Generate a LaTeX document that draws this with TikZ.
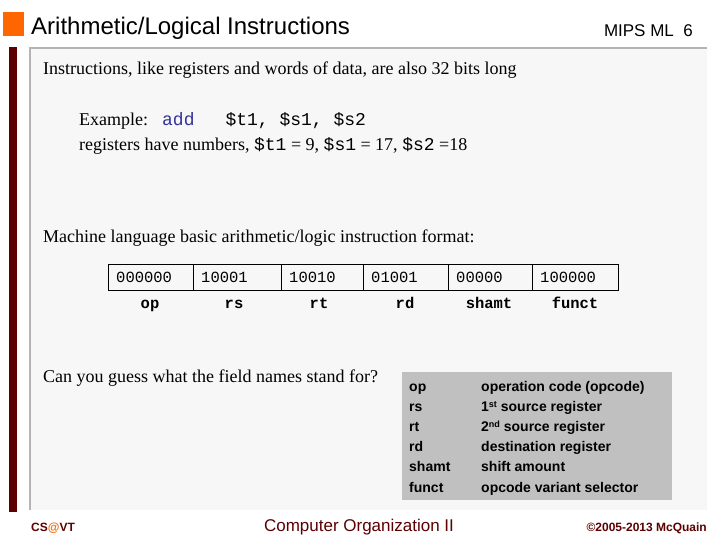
\documentclass[tikz,border=0pt]{standalone}
\usepackage{fontspec}
\setmainfont{Liberation Serif}
\setsansfont{Liberation Sans}
\setmonofont{Liberation Mono}
\begin{document}
\begin{tikzpicture}[x=1pt,y=-1pt,
  txt/.style={anchor=base west,inner sep=0pt,font=\fontsize{18}{20}\selectfont},
  cell/.style={draw=black,line width=1.2pt,minimum height=26pt,inner sep=0pt,anchor=north west},
  celltxt/.style={anchor=base west,inner sep=0pt,font=\ttfamily\fontsize{15.5}{17}\selectfont},
  lbl/.style={anchor=base,inner sep=0pt,font=\ttfamily\bfseries\fontsize{15.5}{17}\selectfont},
  gtxt/.style={anchor=base west,inner sep=0pt,font=\sffamily\bfseries\fontsize{14}{16}\selectfont}]
\definecolor{orng}{HTML}{FF6600}
\definecolor{maroon}{HTML}{5C0000}
\definecolor{panel}{HTML}{F7F7F7}
\definecolor{pborder}{HTML}{B4B4B4}
\definecolor{codeblue}{HTML}{333399}
\definecolor{gbox}{HTML}{C0C0C0}
\useasboundingbox[fill=white] (0,0) rectangle (720,540);
% header
\fill[orng] (3,12) rectangle (24,36);
\node[anchor=base west,inner sep=0pt,font=\sffamily\fontsize{24}{27}\selectfont] (title) at (31,35) {Arithmetic/Logical Instructions};
\node[anchor=base east,inner sep=0pt,font=\sffamily\fontsize{17}{19}\selectfont] (pg) at (693,37) {MIPS ML\ \ 6};
% side bar and panel
\fill[maroon] (9,47) rectangle (17,512);
\fill[panel] (30,48) rectangle (707,510);
\draw[pborder,line width=1.5pt] (30,510) -- (30,48) -- (707,48);
% body text
\node[txt] (t1) at (43,75) {Instructions, like registers and words of data, are also 32 bits long};
\node[txt] (t2) at (79,126) {Example:\hspace{14pt}{\ttfamily\color{codeblue}add}\hspace{31pt}{\ttfamily \$t1, \$s1, \$s2}};
\node[txt] (t3) at (79,151) {registers have numbers, {\ttfamily \$t1} = 9, {\ttfamily \$s1} = 17, {\ttfamily \$s2} =18};
\node[txt] (t4) at (43,243) {Machine language basic arithmetic/logic instruction format:};
% table
\node[cell,minimum width=85pt] (c1) at (108,264) {};
\node[cell,minimum width=88pt] (c2) at (193,264) {};
\node[cell,minimum width=82pt] (c3) at (281,264) {};
\node[cell,minimum width=85pt] (c4) at (363,264) {};
\node[cell,minimum width=84pt] (c5) at (448,264) {};
\node[cell,minimum width=86pt] (c6) at (532,264) {};
\node[celltxt] at (116,282) {000000};
\node[celltxt] at (201,282) {10001};
\node[celltxt] at (289,282) {10010};
\node[celltxt] at (371,282) {01001};
\node[celltxt] at (456,282) {00000};
\node[celltxt] at (540,282) {100000};
\node[lbl] (l1) at (150,308) {op};
\node[lbl] (l2) at (234,308) {rs};
\node[lbl] (l3) at (319,308) {rt};
\node[lbl] (l4) at (405,308) {rd};
\node[lbl] (l5) at (489,308) {shamt};
\node[lbl] (l6) at (575,308) {funct};
\node[txt] (q) at (43,382) {Can you guess what the field names stand for?};
% gray box
\fill[gbox] (402,372) rectangle (672,500);
\node[gtxt] at (409,391) {op};
\node[gtxt] at (409,411) {rs};
\node[gtxt] at (409,431) {rt};
\node[gtxt] at (409,451) {rd};
\node[gtxt] at (409,471) {shamt};
\node[gtxt] at (409,492) {funct};
\node[gtxt] at (481,391) {operation code (opcode)};
\node[gtxt] at (481,411) {1{\fontsize{9}{10}\selectfont\raisebox{4pt}{st}} source register};
\node[gtxt] at (481,431) {2{\fontsize{9}{10}\selectfont\raisebox{4pt}{nd}} source register};
\node[gtxt] at (481,451) {destination register};
\node[gtxt] at (481,471) {shift amount};
\node[gtxt] at (481,492) {opcode variant selector};
% footer
\node[anchor=base west,inner sep=0pt,font=\sffamily\bfseries\fontsize{12}{14}\selectfont,text=maroon] (f1) at (31,531) {CS{\color{orng}@}VT};
\node[anchor=base,inner sep=0pt,font=\sffamily\fontsize{17}{19}\selectfont,text=maroon] (f2) at (359,531) {Computer Organization II};
\node[anchor=base east,inner sep=0pt,font=\sffamily\bfseries\fontsize{12}{14}\selectfont,text=maroon] (f3) at (707,531) {\char"00A9 2005-2013 McQuain};
\end{tikzpicture}
\end{document}
